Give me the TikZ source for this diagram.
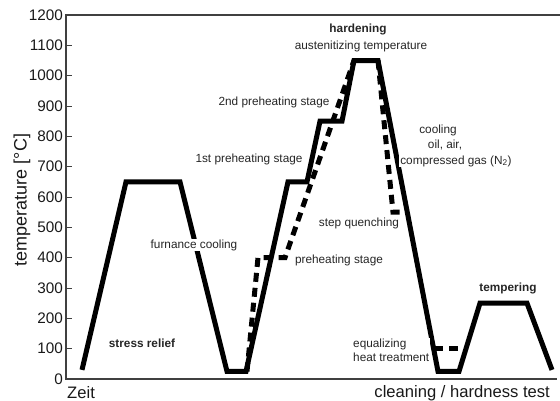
\documentclass[tikz,border=0pt]{standalone}
\usepackage{fontspec}
\setmainfont{Liberation Sans}
\usetikzlibrary{positioning}

\begin{document}
\begin{tikzpicture}[x=1pt,y=-1pt,
    curve/.style={line width=5pt,black},
    dashcurve/.style={line width=5pt,black,dash pattern=on 9pt off 6pt},
    axis/.style={line width=1.4pt,black!75},
    lbl/.style={font=\fontsize{11.8}{14}\selectfont,text=black!85,fill=white,inner sep=1pt},
    blbl/.style={lbl,font=\fontsize{11.8}{14}\selectfont\bfseries},
    ticklbl/.style={font=\fontsize{15.3}{17}\selectfont,text=black!90,anchor=east,inner sep=0pt},
    axlbl/.style={font=\fontsize{16.6}{18}\selectfont,text=black!90,inner sep=0pt}]

    \useasboundingbox (0,0) rectangle (560,401);

    \draw[axis] (560,15) -- (66,15) -- (66,379) -- (557,379);

    \begin{scope}[shift={(0,379)},y=0.30333pt]
        \foreach \t in {0,100,...,1200}{
            \draw[axis,line width=1pt] (66,\t) -- (72,\t);
            \node[ticklbl] (t\t) at (63,\t) {\t};
        }

        \draw[curve] (82,30) -- (126,650) -- (180,650) -- (227,25) -- (246,25)
            -- (288,650) -- (307,650) -- (320,850) -- (342,850) -- (354,1050)
            -- (378,1050) -- (438,25) -- (459,25) -- (480,250) -- (527,250) -- (552,30);

        \draw[dashcurve] (247,25) -- (258,400) -- (285,400) -- (354,1050);
        \draw[dashcurve] (378,1050) -- (393,550) -- (401,550);
        \draw[dashcurve] (434,100) -- (466,100);
    \end{scope}

    \node[blbl] (hard) at (358,29) {hardening};
    \node[lbl] (aust) at (361,46) {austenitizing temperature};
    \node[lbl] (pre2) at (274,102) {2nd preheating stage};
    \node[lbl] (pre1) at (249,159) {1st preheating stage};
    \node[lbl] (cool) at (438,130) {cooling};
    \node[lbl] (oil) at (445,145) {oil, air,};
    \node[lbl] (gas) at (456,161) {compressed gas (N\textsubscript{2})};
    \node[lbl] (quench) at (359,223) {step quenching};
    \node[lbl] (furn) at (194,245) {furnance cooling};
    \node[lbl] (pre) at (339,260) {preheating stage};
    \node[blbl] (temper) at (508,288) {tempering};
    \node[blbl] (relief) at (142,343) {stress relief};
    \node[lbl,align=left,anchor=west] (equal) at (352,350) {equalizing\\heat treatment};

    \node[axlbl,anchor=west] (zeit) at (67,393) {Zeit};
    \node[axlbl,anchor=east] (clean) at (550,393) {cleaning / hardness test};
    \node[axlbl,rotate=90,font=\fontsize{18}{20}\selectfont] (temp) at (22,200) {temperature [°C]};
\end{tikzpicture}
\end{document}
